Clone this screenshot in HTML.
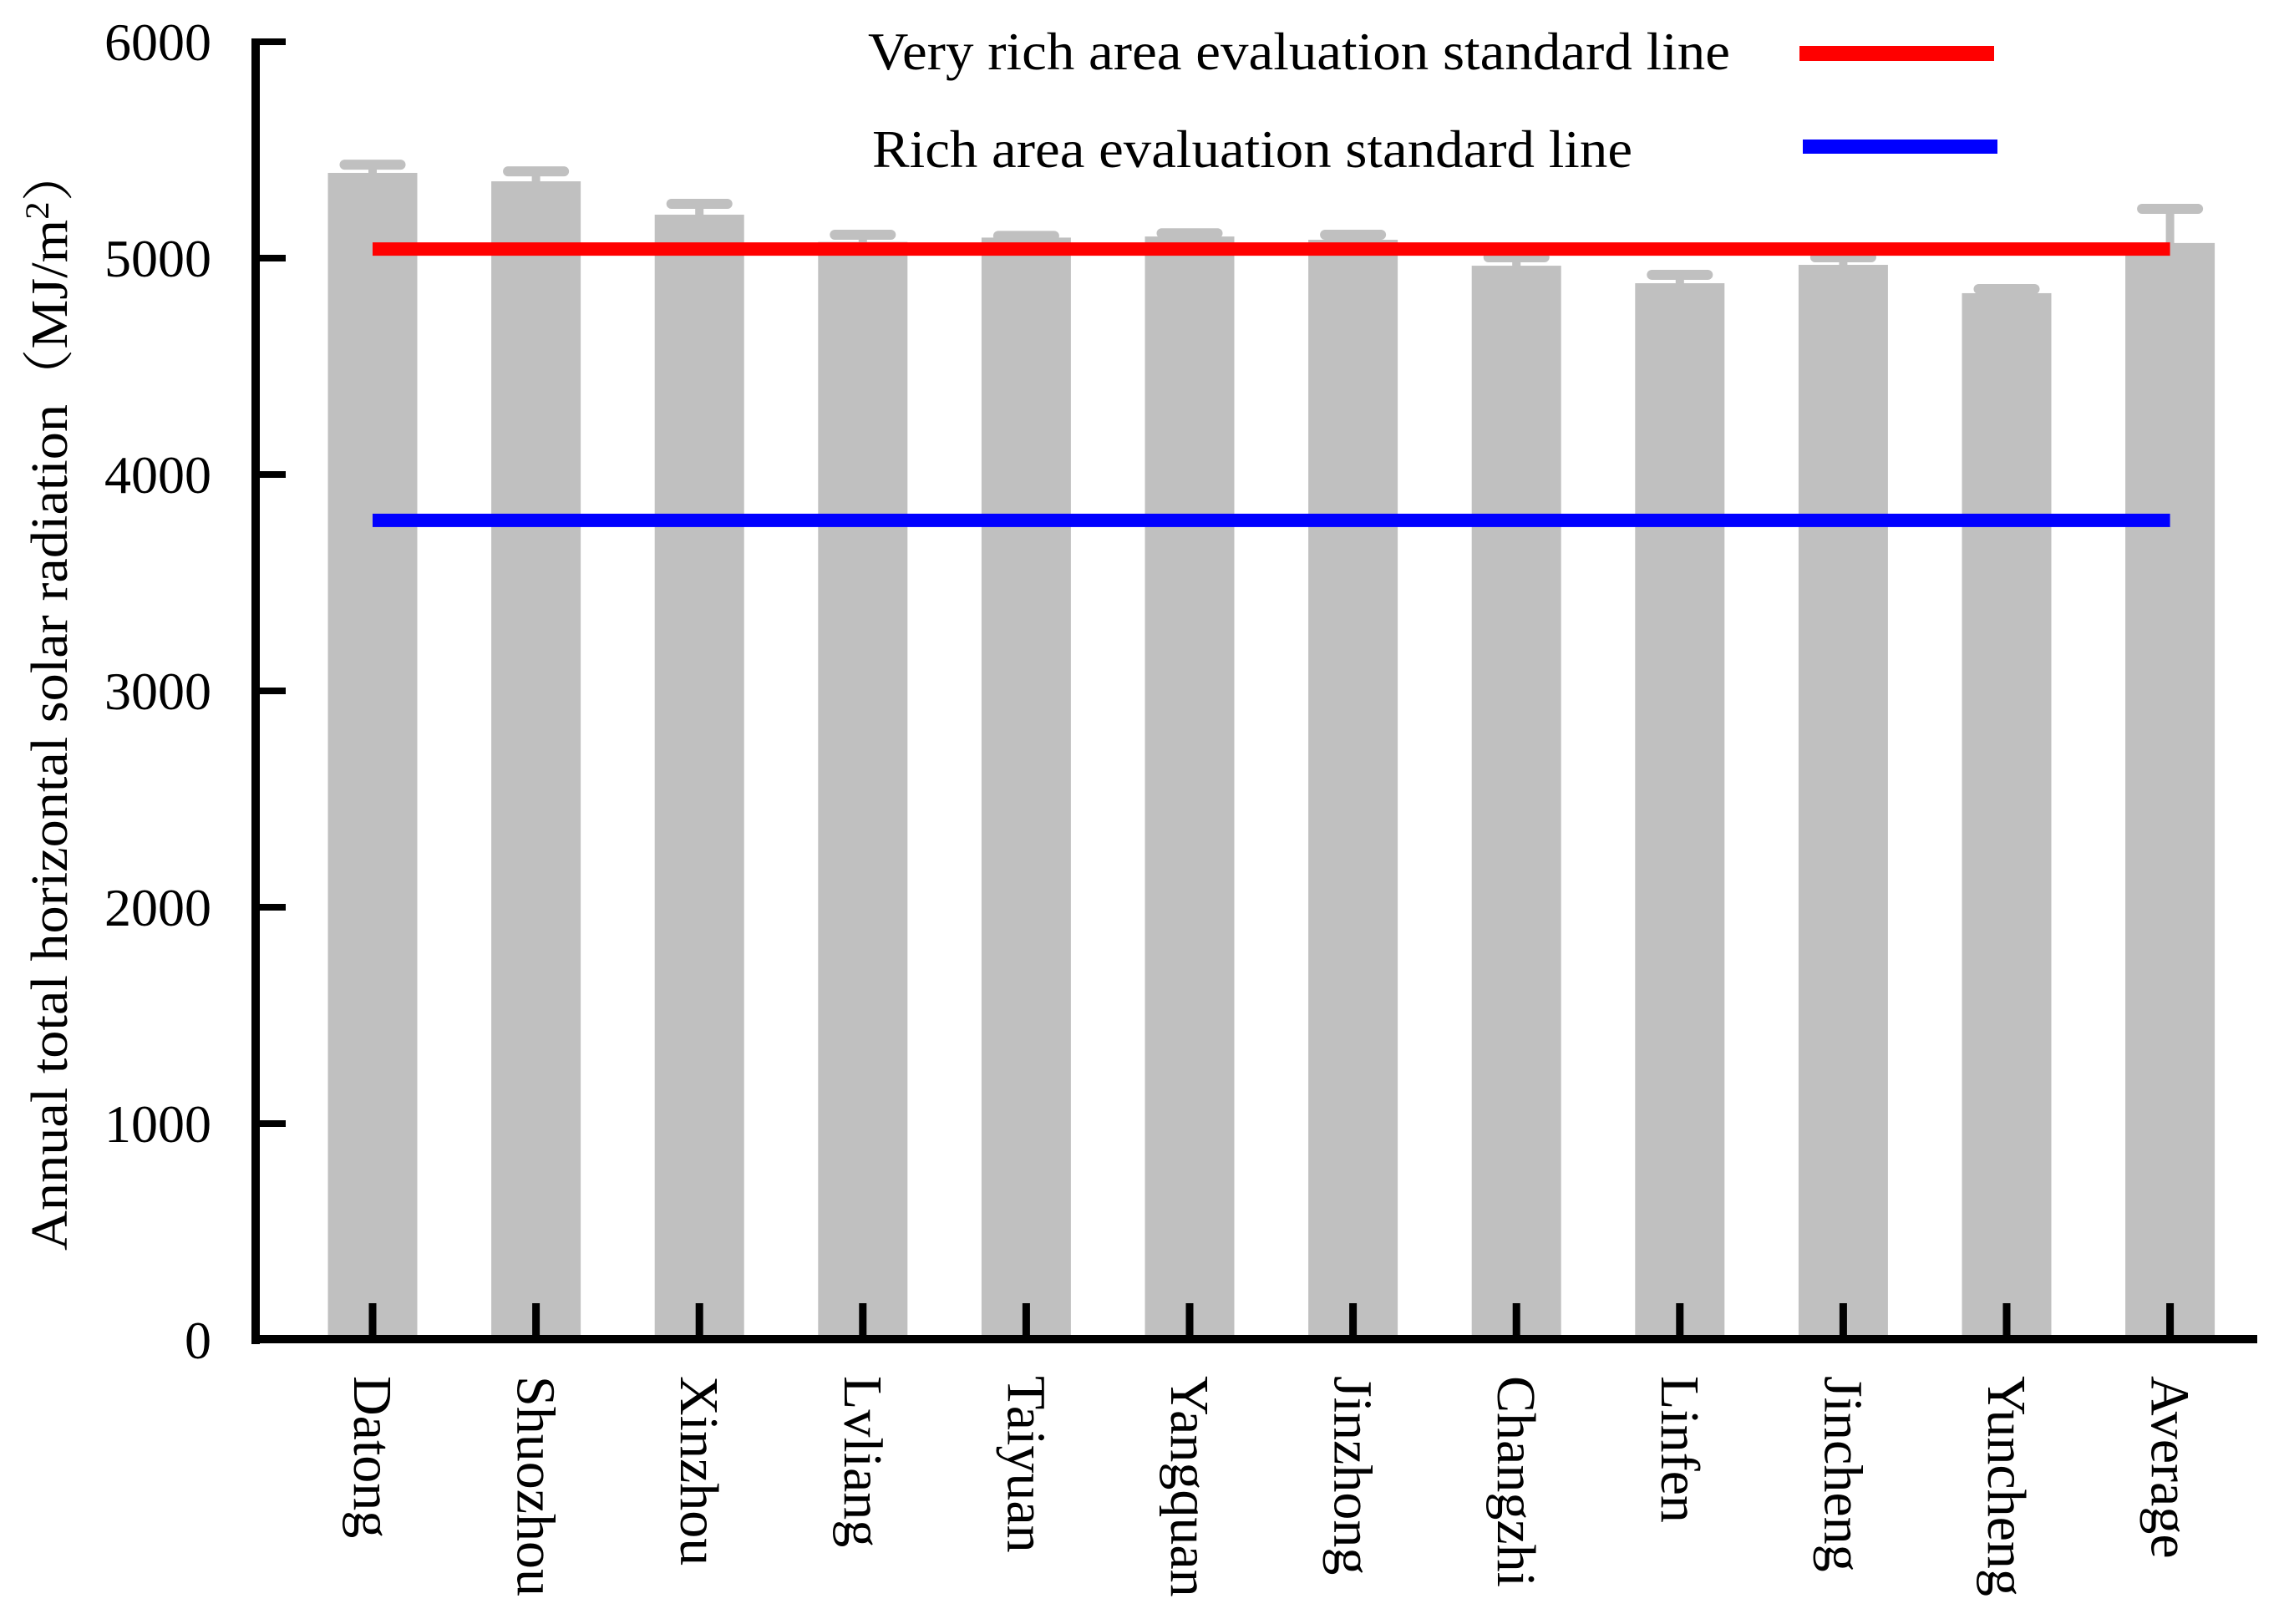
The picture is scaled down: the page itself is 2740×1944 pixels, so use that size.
<!DOCTYPE html>
<html><head><meta charset="utf-8"><style>
html,body{margin:0;padding:0;background:#fff;}
svg{display:block;}
text{font-family:"Liberation Serif","Noto Serif CJK SC",serif;fill:#000;}
</style></head><body>
<svg id="chart" width="2740" height="1944" viewBox="0 0 2740 1944" xmlns="http://www.w3.org/2000/svg">
<g id="bars"></g>
<g id="lines"></g>
<g id="axes"></g>
<text transform="translate(80,836) rotate(-90)" text-anchor="middle" font-size="62" textLength="1322" lengthAdjust="spacingAndGlyphs">Annual total horizontal solar radiation（MJ/m<tspan baseline-shift="super" font-size="40">2</tspan>）</text>
<g>
<text x="1039" y="83" font-size="64" textLength="1032" lengthAdjust="spacingAndGlyphs">Very rich area evaluation standard line</text>
<rect x="2154" y="55" width="233" height="18" fill="#ff0000"/>
<text x="1044" y="200" font-size="64" textLength="910" lengthAdjust="spacingAndGlyphs">Rich area evaluation standard line</text>
<rect x="2158" y="167" width="233" height="17" fill="#0000ff"/>
</g>
</svg>
<script>
const categories = ["Datong","Shuozhou","Xinzhou","Lvliang","Taiyuan","Yangquan","Jinzhong","Changzhi","Linfen","Jincheng","Yuncheng","Average"];
const values = [5394,5355,5201,5075,5095,5100,5085,4965,4884,4969,4838,5070];
const errors = [38,46,50,33,8,15,23,39,39,35,19,158];
const yTicks = [0,1000,2000,3000,4000,5000,6000];
const standards = [5042,3788];

const NS = "http://www.w3.org/2000/svg";
const Y0 = 1604, PX_PER = 259/1000;
function yScale(v){ return Y0 - v*PX_PER; }
function xScale(i){ return 446 + i*195.6; }
const BW = 107, CAPW = 79;
function mk(tag, attrs, parent){ const e=document.createElementNS(NS,tag); for(const k in attrs) e.setAttribute(k,attrs[k]); parent.appendChild(e); return e; }

const gB = document.getElementById('bars');
categories.forEach((c,i)=>{
  const cx = xScale(i), top = yScale(values[i]), capY = yScale(values[i]+errors[i]);
  const bar = mk('rect',{x:cx-BW/2,y:top,width:BW,height:Y0-top,fill:'#c0c0c0'},gB);
  
  
  const stem = mk('rect',{x:cx-5,y:capY,width:10,height:top-capY+2,fill:'#c0c0c0'},gB);
  
  
  const cap = mk('rect',{x:cx-CAPW/2,y:capY-6,width:CAPW,height:12,rx:6,fill:'#c0c0c0'},gB);
  
  
});

const gL = document.getElementById('lines');
const colors = ['#ff0000','#0000ff'];
const lnames = ['very-rich-standard-line','rich-standard-line'];
standards.forEach((s,k)=>{
  const r = mk('rect',{x:xScale(0),y:yScale(s)-8,width:xScale(categories.length-1)-xScale(0),height:16,fill:colors[k]},gL);
  
  
});

const gA = document.getElementById('axes');
const ya = mk('rect',{x:301,y:yScale(6000)-4,width:10,height:Y0-yScale(6000)+9},gA);


const xa = mk('rect',{x:301,y:1598,width:2702-301,height:10},gA);


yTicks.forEach(t=>{
  const y = yScale(t);
  const tk = mk('rect',{x:306,y:y-4,width:36,height:8},gA);
  
  
  const lb = mk('text',{x:253,y:y+22,'text-anchor':'end','font-size':64},gA);
  lb.textContent = t;
  
  
});
categories.forEach((c,i)=>{
  const x = xScale(i);
  const tk = mk('rect',{x:x-4.5,y:1560,width:9,height:42},gA);
  
  
  const lb = mk('text',{transform:`translate(${x-22},1647) rotate(90)`,'font-size':66},gA);
  lb.textContent = c;
  
  
});
</script>
</body></html>
